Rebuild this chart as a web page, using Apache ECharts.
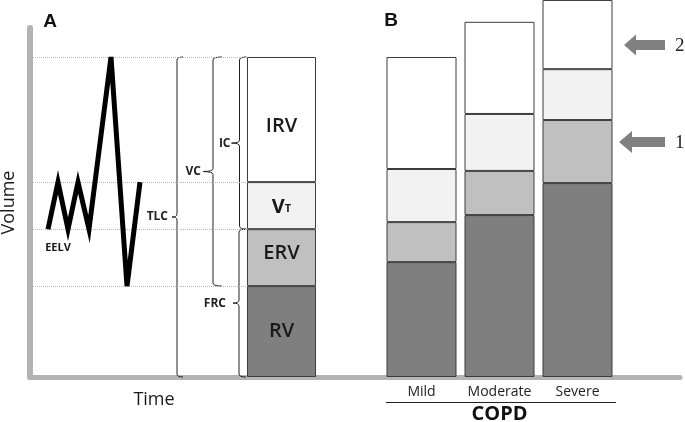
<!DOCTYPE html>
<html><head><meta charset="utf-8">
<script src="https://cdn.jsdelivr.net/npm/echarts@6/dist/echarts.min.js"></script>
<style>html,body{margin:0;padding:0;background:#fff}#c{width:685px;height:422px}</style>
</head><body><div id="c"></div>
<script>
// ---- data (volumes in % of normal TLC) ----
const compartments = ['RV', 'ERV', 'VT', 'IRV'];
const normalValues = [28.4, 17.8, 14.7, 39.1];
const copdCategories = ['Mild', 'Moderate', 'Severe'];
const rvValues  = [35.9, 50.6, 60.6];
const ervValues = [12.5, 13.8, 19.7];
const vtValues  = [16.6, 17.8, 15.9];
const irvValues = [35.0, 28.8, 21.6];
const traceTime   = [18, 28, 38, 48, 59, 81, 97, 110];
const traceVolume = [46.2, 60.9, 46.2, 60.9, 46.2, 100, 28.4, 60.9];
const capacityNames = ['TLC', 'VC', 'IC', 'FRC'];

// derived capacities from the normal compartments
const RV = normalValues[0];
const FRC = normalValues[0] + normalValues[1];
const EEIV = FRC + normalValues[2];
const TLC = normalValues.reduce((a, b) => a + b, 0);
const capacityLow  = [0, RV, FRC, 0];
const capacityHigh = [TLC, TLC, TLC, FRC];
const guideVolumes = [TLC, EEIV, FRC, RV];

// ---- styling / layout ----
const fills = ['#7f7f7f', '#bfc0bf', '#f2f2f2', '#ffffff'];
const labelOffsets = [[0, 0], [0, -4], [0, 0], [0, 7]];
const border = '#3c3c3c';
const FONT = '"Open Sans", sans-serif';
const bracketX = [177, 213, 239.5, 239];
const bracketCurl = [6, 9, 7, 7];
const bracketNib = [5, 10, 8, 6];
const bracketGap = [4, 2, 1, 7];

const chart = echarts.init(document.getElementById('c'), null, {renderer: 'canvas'});

const labelFor = (name) => name === 'VT' ? '{v|V}{t|T}' : name;
const richVT = {
  v: {fontSize: 20, fontWeight: 'bold', color: '#1a1a1a', fontFamily: FONT, lineHeight: 24, verticalAlign: 'bottom'},
  t: {fontSize: 11, fontWeight: 'bold', color: '#1a1a1a', fontFamily: FONT, lineHeight: 24, verticalAlign: 'bottom', padding: [0, 0, 3, 0]}
};

const normalSeries = compartments.map((name, k) => ({
  type: 'bar', name: 'N-' + name, stack: 'normal', xAxisIndex: 1, yAxisIndex: 1,
  barWidth: 69, data: [normalValues[k]],
  itemStyle: {color: fills[k], borderColor: border, borderWidth: 1},
  label: {show: true, position: 'inside', offset: labelOffsets[k], formatter: labelFor(name), fontSize: 20,
    fontWeight: 600, color: '#1a1a1a', fontFamily: FONT, rich: richVT},
  silent: true
}));

const copdData = [rvValues, ervValues, vtValues, irvValues];
const copdSeries = compartments.map((name, k) => ({
  type: 'bar', name: 'C-' + name, stack: 'copd', xAxisIndex: 2, yAxisIndex: 2,
  barWidth: 70, data: copdData[k],
  itemStyle: {color: fills[k], borderColor: border, borderWidth: 1},
  silent: true
}));

const bracketSeries = {
  type: 'custom', xAxisIndex: 0, yAxisIndex: 0, silent: true, clip: false,
  data: capacityNames.map((n, i) => [i, capacityLow[i], capacityHigh[i]]),
  encode: {x: 0, y: [1, 2]},
  renderItem: function (params, api) {
    const i = params.dataIndex;
    const yb = api.coord([0, api.value(1)])[1];
    const yt = api.coord([0, api.value(2)])[1];
    const ym = (yt + yb) / 2;
    const x = bracketX[i], c = bracketCurl[i], n = bracketNib[i], r = 3;
    const d = `M${x + c},${yt} Q${x},${yt} ${x},${yt + r} L${x},${ym - r} Q${x},${ym} ${x - n},${ym} ` +
              `Q${x},${ym} ${x},${ym + r} L${x},${yb - r} Q${x},${yb} ${x + c},${yb}`;
    return {type: 'group', children: [
      {type: 'path', shape: {pathData: d}, style: {fill: 'none', stroke: '#222', lineWidth: 1}},
      {type: 'text', style: {text: capacityNames[i], x: x - n - bracketGap[i], y: ym,
        align: 'right', verticalAlign: 'middle', fontSize: 12, fontWeight: 'bold',
        fontFamily: FONT, fill: '#222'}}
    ]};
  }
};

const traceSeries = {
  type: 'line', xAxisIndex: 0, yAxisIndex: 0, z: 5, silent: true,
  data: traceTime.map((t, i) => [t, traceVolume[i]]),
  symbol: 'none', lineStyle: {color: '#000', width: 5, join: 'miter', cap: 'butt'},
  markLine: {
    silent: true, symbol: ['none', 'none'], label: {show: false},
    lineStyle: {type: 'dotted', color: '#b8b8b8', width: 1},
    data: guideVolumes.map(v => [{coord: [3, v]}, {coord: [217, v]}])
  }
};

const axisGray = '#b3b3b3';
const option = {
  animation: false,
  backgroundColor: '#ffffff',
  textStyle: {fontFamily: FONT},
  grid: [
    {left: 30, right: 5, top: 28, bottom: 45, containLabel: false, outerBoundsMode: 'none'},
    {left: 247, width: 69, top: 0, bottom: 45, containLabel: false, outerBoundsMode: 'none'},
    {left: 382.5, right: 68.5, top: 0, bottom: 45, containLabel: false, outerBoundsMode: 'none'}
  ],
  xAxis: [
    {gridIndex: 0, type: 'value', min: 0, max: 650,
      axisLine: {show: true, onZero: false, lineStyle: {color: axisGray, width: 5}},
      axisTick: {show: false}, axisLabel: {show: false}, splitLine: {show: false}},
    {gridIndex: 1, type: 'category', data: ['Normal'], show: false},
    {gridIndex: 2, type: 'category', data: copdCategories,
      axisLine: {show: false}, axisTick: {show: false},
      axisLabel: {fontSize: 14, color: '#222', margin: 8, interval: 0, fontFamily: FONT},
      name: 'COPD', nameLocation: 'middle', nameGap: 27,
      nameTextStyle: {fontSize: 20, fontWeight: 'bold', color: '#111', fontFamily: FONT}}
  ],
  yAxis: [
    {gridIndex: 0, type: 'value', min: 0, max: 349 / 3.2,
      axisLine: {show: true, onZero: false, lineStyle: {color: axisGray, width: 6}},
      axisTick: {show: false}, axisLabel: {show: false}, splitLine: {show: false},
      name: 'Volume', nameLocation: 'middle', nameRotate: 90, nameGap: 12,
      nameTextStyle: {fontSize: 18, color: '#1a1a1a', fontFamily: FONT}},
    {gridIndex: 1, type: 'value', min: 0, max: 377 / 3.2, show: false},
    {gridIndex: 2, type: 'value', min: 0, max: 377 / 3.2, show: false}
  ],
  series: [traceSeries, bracketSeries, ...normalSeries, ...copdSeries],
  graphic: [
    {type: 'text', style: {text: 'A', x: 50, y: 22, align: 'center', verticalAlign: 'middle',
      fontSize: 19, fontWeight: 'bold', fontFamily: '"Liberation Sans", Arial, sans-serif', fill: '#111'}},
    {type: 'text', style: {text: 'B', x: 391, y: 21, align: 'center', verticalAlign: 'middle',
      fontSize: 19, fontWeight: 'bold', fontFamily: '"Liberation Sans", Arial, sans-serif', fill: '#111'}},
    {type: 'text', style: {text: 'Time', x: 154, y: 400, align: 'center', verticalAlign: 'middle',
      fontSize: 18, fontFamily: FONT, fill: '#1a1a1a'}},
    {type: 'text', style: {text: 'EELV', x: 58, y: 248, align: 'center', verticalAlign: 'middle',
      fontSize: 11, fontWeight: 'bold', fontFamily: FONT, fill: '#1a1a1a'}},
    {type: 'line', shape: {x1: 386, y1: 402.5, x2: 616, y2: 402.5}, style: {stroke: '#222', lineWidth: 1}},
    {type: 'polygon', shape: {points: [[624, 45], [636, 34.5], [636, 40], [665, 40], [665, 50], [636, 50], [636, 55.5]]},
      style: {fill: '#808080'}},
    {type: 'polygon', shape: {points: [[619, 142], [632, 131], [632, 137], [665, 137], [665, 147], [632, 147], [632, 153]]},
      style: {fill: '#808080'}},
    {type: 'text', style: {text: '2', x: 675, y: 46, align: 'left', verticalAlign: 'middle',
      fontSize: 19, fontFamily: '"Liberation Serif", serif', fill: '#222'}},
    {type: 'text', style: {text: '1', x: 675, y: 143, align: 'left', verticalAlign: 'middle',
      fontSize: 19, fontFamily: '"Liberation Serif", serif', fill: '#222'}}
  ]
};
chart.setOption(option);
</script>
</body></html>
